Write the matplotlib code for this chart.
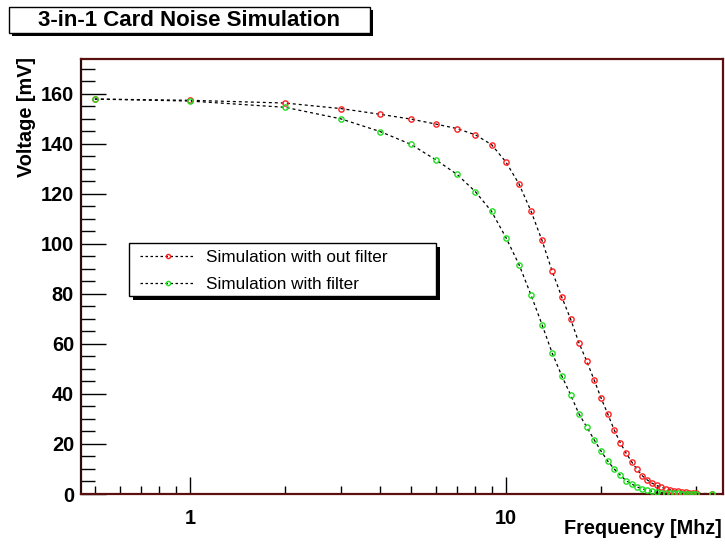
import matplotlib
matplotlib.use("Agg")
import matplotlib.pyplot as plt
from matplotlib.patches import Rectangle
from matplotlib.ticker import FixedLocator, NullFormatter, FixedFormatter

plt.rcParams['font.family'] = ['Liberation Sans', 'DejaVu Sans']

# frequency points [MHz]
freq = [0.5, 1, 2, 3, 4, 5, 6, 7, 8, 9, 10,
        11, 12, 13, 14, 15, 16, 17, 18, 19, 20,
        21, 22, 23, 24, 25, 26, 27, 28, 29, 30,
        31, 32, 33, 34, 35, 36, 37, 38, 39, 40, 45]

# voltage [mV] without filter
v_nofilter = [157.8, 157.3, 156.2, 154.0, 151.7, 149.8, 147.8, 146.0, 143.5, 139.6, 132.6,
              123.8, 113.0, 101.3, 89.0, 78.8, 70.0, 60.5, 53.1, 45.6, 38.3,
              31.9, 25.6, 20.4, 16.3, 12.8, 9.8, 7.3, 5.6, 4.3, 3.4,
              2.7, 2.1, 1.7, 1.3, 1.0, 0.8, 0.6, 0.5, 0.4, 0.3, 0.1]

# voltage [mV] with filter
v_filter = [157.8, 157.0, 154.5, 149.9, 144.8, 139.7, 133.5, 127.7, 120.8, 112.9, 102.4,
            91.6, 79.5, 67.7, 56.3, 47.3, 39.7, 32.1, 26.8, 21.7, 17.1,
            13.1, 10.0, 7.5, 5.3, 4.0, 2.8, 2.1, 1.4, 1.1, 0.7,
            0.5, 0.4, 0.3, 0.2, 0.2, 0.1, 0.1, 0.1, 0.1, 0.1, 0.05]

labels = ["Simulation with out filter", "Simulation with filter"]

W, H = 725, 544
fig = plt.figure(figsize=(W / 100, H / 100), dpi=100)
fig.patch.set_facecolor('white')

ax = fig.add_axes([81 / W, 1 - 494 / H, 642 / W, 435 / H])
ax.set_xscale('log')

dash = (0, (2.4, 2.4))
for v, col in [(v_nofilter, '#ff2020'), (v_filter, '#20e020')]:
    ax.plot(freq, v, color='black', lw=0.9, ls=dash, zorder=2)
    ax.plot(freq, v, ls='none', marker='o', ms=3.8, mfc='none', mec=col, mew=1.0, zorder=3)

ax.set_xlim(0.452, 48.6)
ax.set_ylim(0, 173.8)

# ticks
ax.xaxis.set_major_locator(FixedLocator([1, 10]))
ax.xaxis.set_major_formatter(FixedFormatter(["1", "10"]))
ax.xaxis.set_minor_locator(FixedLocator([0.5, 0.6, 0.7, 0.8, 0.9, 2, 3, 4, 5, 6, 7, 8, 9, 20, 30, 40]))
ax.xaxis.set_minor_formatter(NullFormatter())
ax.yaxis.set_major_locator(FixedLocator([0, 20, 40, 60, 80, 100, 120, 140, 160]))
ax.yaxis.set_minor_locator(FixedLocator([v for v in range(5, 175, 5) if v % 20 != 0]))

ax.tick_params(axis='both', which='both', direction='in', top=False, right=False,
               colors='black', labelsize=14.3)
ax.tick_params(axis='x', which='major', length=12, width=1, pad=11)
ax.tick_params(axis='x', which='minor', length=6, width=1)
ax.tick_params(axis='y', which='major', length=18, width=1, pad=5)
ax.tick_params(axis='y', which='minor', length=10, width=1)
for lab in ax.get_xticklabels() + ax.get_yticklabels():
    lab.set_fontweight('bold')

for s in ax.spines.values():
    s.set_color('#5c0f0f')
    s.set_linewidth(1.6)
ax.spines['left'].set_color('#2a0a0a')

# axis titles (ROOT style, at axis ends)
fig.text(27 / W, 1 - 57 / H, "Voltage [mV]", rotation=90, ha='center', va='top',
         fontsize=14.3, fontweight='bold')
fig.text(722 / W, 1 - 528 / H, "Frequency [Mhz]", ha='right', va='center',
         fontsize=14.3, fontweight='bold')

# title box with shadow
tx0, ty0, tx1, ty1 = 9, 7, 370, 33
fig.patches.append(Rectangle(((tx0 + 3) / W, 1 - (ty1 + 3) / H), (tx1 - tx0) / W, (ty1 - ty0) / H,
                             transform=fig.transFigure, facecolor='black', edgecolor='black',
                             lw=0, zorder=1))
fig.patches.append(Rectangle((tx0 / W, 1 - ty1 / H), (tx1 - tx0) / W, (ty1 - ty0) / H,
                             transform=fig.transFigure, facecolor='white', edgecolor='black',
                             lw=1, zorder=2))
fig.text((tx0 + tx1) / 2 / W, 1 - (ty0 + ty1) / 2 / H, "3-in-1 Card Noise Simulation",
         ha='center', va='center', fontsize=16, fontweight='bold', zorder=3)

# legend box with shadow
lx0, ly0, lx1, ly1 = 129, 243, 436, 296
fig.patches.append(Rectangle(((lx0 + 4) / W, 1 - (ly1 + 4) / H), (lx1 - lx0) / W, (ly1 - ly0) / H,
                             transform=fig.transFigure, facecolor='black', lw=0, zorder=4))
fig.patches.append(Rectangle((lx0 / W, 1 - ly1 / H), (lx1 - lx0) / W, (ly1 - ly0) / H,
                             transform=fig.transFigure, facecolor='white', edgecolor='black',
                             lw=1, zorder=5))

h1, = ax.plot([], [], color='black', lw=0.9, ls=(0, (2.0, 2.0)), marker='o', ms=3.0,
              mfc='none', mec='#ff2020', mew=1.0)
h2, = ax.plot([], [], color='black', lw=0.9, ls=(0, (2.0, 2.0)), marker='o', ms=3.0,
              mfc='none', mec='#20e020', mew=1.0)
leg = fig.legend([h1, h2], labels, loc='upper left',
                 bbox_to_anchor=((lx0 + 8) / W, 1 - (ly0 + 4) / H),
                 frameon=False, fontsize=12.3, handlelength=3.2, handletextpad=0.64,
                 labelspacing=0.67, borderaxespad=0, borderpad=0.2)
leg.set_zorder(6)

fig.savefig("out.png", dpi=100)
